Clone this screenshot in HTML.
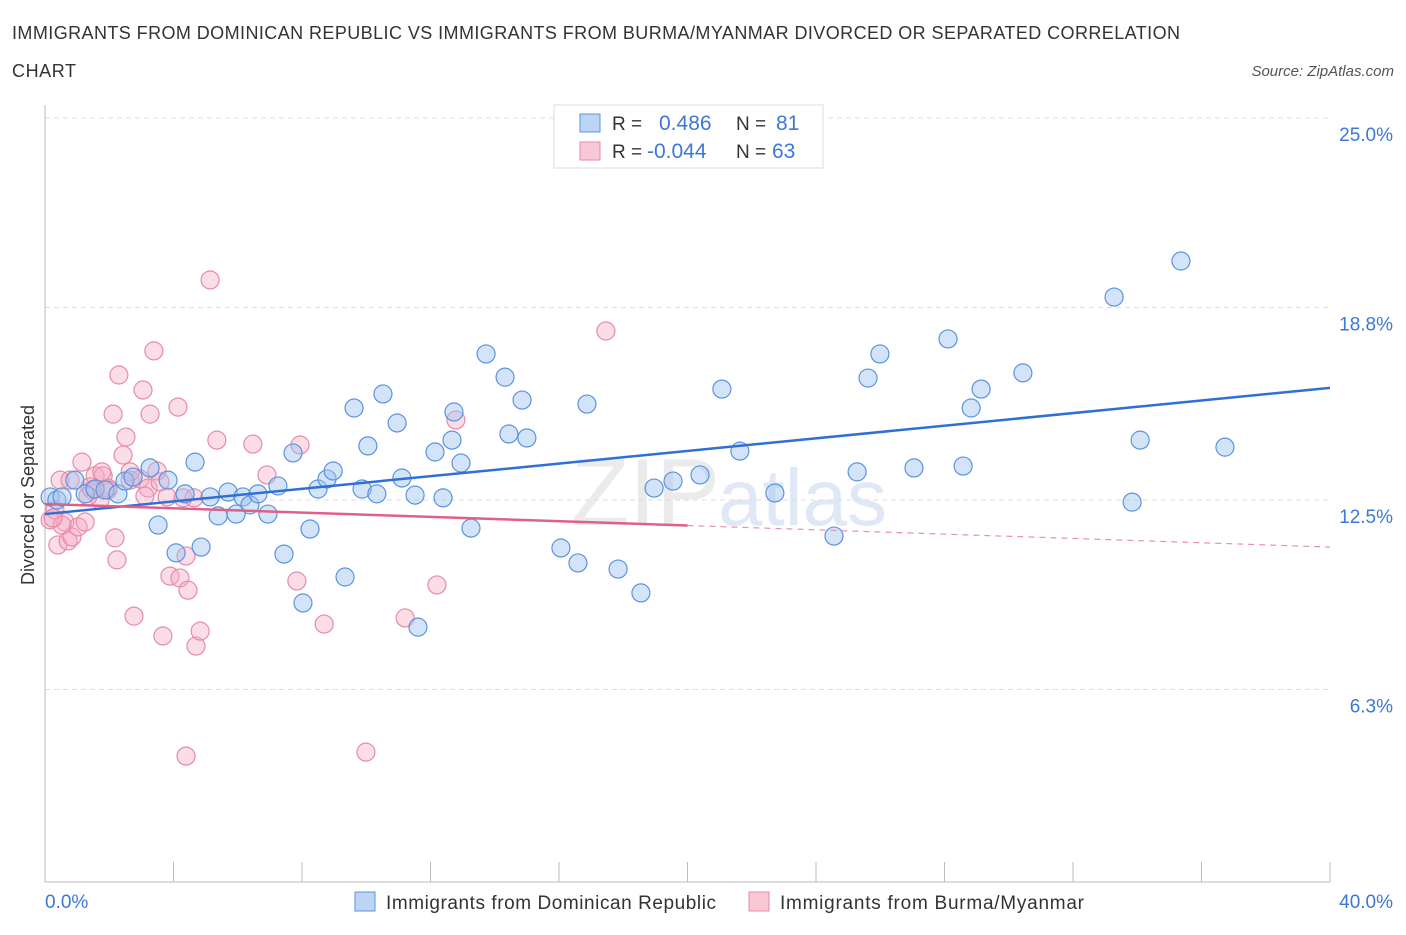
<!DOCTYPE html>
<html><head><meta charset="utf-8"><style>
body{margin:0;background:#fff;font-family:"Liberation Sans",sans-serif;}
svg text{font-family:"Liberation Sans",sans-serif;}
</style></head><body>
<svg id="chart" width="1406" height="930">
<text x="12" y="39" font-size="18" fill="#333" textLength="1168" lengthAdjust="spacing">IMMIGRANTS FROM DOMINICAN REPUBLIC VS IMMIGRANTS FROM BURMA/MYANMAR DIVORCED OR SEPARATED CORRELATION</text>
<text x="12" y="77" font-size="18" fill="#333" textLength="64">CHART</text>
<text x="1394" y="76" font-size="15" fill="#555" font-style="italic" text-anchor="end">Source: ZipAtlas.com</text>
<text x="720" y="525" font-size="96" fill="#ebebeb" text-anchor="end" font-family="Liberation Serif">ZIP</text>
<text x="718" y="525" font-size="80" fill="#dfe8f6">atlas</text>
<g id="grid"></g><g id="axes"></g><g id="marks"></g>
<text transform="translate(34,495) rotate(-90)" font-size="18" fill="#333" text-anchor="middle">Divorced or Separated</text>
<text x="45" y="908" font-size="19" fill="#3b78d8">0.0%</text>
<text x="1393" y="908" font-size="19" fill="#3b78d8" text-anchor="end">40.0%</text>
<g>
<rect x="554" y="105" width="269" height="63" fill="#fff" stroke="#ddd"/>
<rect x="580" y="114" width="20" height="18" fill="#bcd5f5" stroke="#5b93e0"/>
<rect x="580" y="142" width="20" height="18" fill="#f8c8d7" stroke="#e88aa8"/>
<text x="612" y="130" font-size="19" fill="#333">R =</text><text x="659" y="130" font-size="21" fill="#3b78d8">0.486</text>
<text x="736" y="130" font-size="19" fill="#333">N =</text><text x="776" y="130" font-size="21" fill="#3b78d8">81</text>
<text x="612" y="158" font-size="19" fill="#333">R =</text><text x="647" y="158" font-size="21" fill="#3b78d8">-0.044</text>
<text x="736" y="158" font-size="19" fill="#333">N =</text><text x="772" y="158" font-size="21" fill="#3b78d8">63</text>
</g>
<g>
<rect x="355" y="892" width="20" height="19" fill="#bcd5f5" stroke="#5b93e0"/>
<text x="386" y="909" font-size="19" fill="#333" textLength="330">Immigrants from Dominican Republic</text>
<rect x="749" y="892" width="20" height="19" fill="#f8c8d7" stroke="#e88aa8"/>
<text x="780" y="909" font-size="19" fill="#333" textLength="304">Immigrants from Burma/Myanmar</text>
</g>
</svg>
<script>
const blueX=[0.16,0.37,0.53,0.93,1.25,1.56,1.87,2.27,2.49,2.74,3.27,3.52,3.83,4.08,4.36,4.67,4.86,5.14,5.39,5.70,5.95,6.16,6.38,6.63,6.94,7.25,7.44,7.72,8.03,8.25,8.50,8.78,8.97,9.34,9.62,9.87,10.05,10.33,10.52,10.96,11.11,11.52,11.61,12.14,12.39,12.67,12.73,12.95,13.26,13.73,14.32,14.44,14.85,15.00,16.06,16.59,16.87,17.84,18.55,18.96,19.55,20.39,21.07,21.63,22.72,24.56,25.28,25.99,25.62,27.05,28.11,28.58,28.83,29.14,30.44,33.28,33.84,34.09,35.36,36.73];
const blueY=[12.60,12.50,12.60,13.15,12.70,12.86,12.83,12.70,13.12,13.25,13.55,11.68,13.15,10.77,12.70,13.74,10.96,12.60,11.98,12.76,12.04,12.60,12.34,12.70,12.04,12.96,10.73,14.04,9.13,11.55,12.86,13.19,13.45,9.98,15.51,12.86,14.27,12.70,15.97,15.02,13.22,12.66,8.34,14.07,12.57,14.46,15.38,13.71,11.58,17.28,16.52,14.66,15.77,14.53,10.93,10.44,15.64,10.24,9.46,12.89,13.12,13.32,16.13,14.10,12.73,11.32,13.42,17.28,16.49,13.55,17.77,13.61,15.51,16.13,16.66,19.14,12.43,14.46,20.32,14.23];
const pinkX=[0.16,0.31,0.40,0.47,0.62,0.72,0.84,1.03,1.15,1.25,1.40,1.56,1.71,1.81,1.96,2.12,2.18,2.24,2.30,2.43,2.52,2.65,2.77,2.96,3.05,3.21,3.27,3.39,3.49,3.58,3.67,3.80,3.89,4.14,4.20,4.30,4.39,4.45,4.64,4.70,4.83,5.14,5.35,6.47,6.91,7.84,7.94,8.69,9.99,11.21,12.20,12.79,17.46,0.53,0.78,1.46,1.77,1.96,2.65,3.11,4.39,1.34,0.25];
const pinkY=[11.85,12.17,11.03,13.15,11.78,11.16,11.29,11.62,13.74,11.78,12.93,13.29,12.50,13.29,12.89,15.31,11.26,10.54,16.59,13.97,14.56,13.15,8.70,13.19,16.10,12.89,15.31,17.38,13.45,13.09,8.05,12.60,10.01,15.54,9.95,12.57,4.12,9.55,12.57,7.72,8.21,19.70,14.46,14.33,13.32,9.85,14.30,8.44,4.25,8.64,9.72,15.12,18.03,11.68,13.15,12.83,13.42,12.83,13.42,12.63,10.67,12.63,11.91];
const yTicks=[25.0,18.8,12.5,6.3];
const yTickLabels=["25.0%","18.8%","12.5%","6.3%"];
const xTicks=[0,4,8,12,16,20,24,28,32,36,40];
const blueTrend=[12.04,16.17];
const pinkTrend=[12.37,10.96];
const pinkSolidEnd=20;
const NS="http://www.w3.org/2000/svg";
const X0=45,X1=1330,Y0=882,YS=30.56;
function sx(v){return X0+(X1-X0)*v/40;}
function sy(v){return Y0-v*YS;}
function mk(tag,attrs,parent){const e=document.createElementNS(NS,tag);for(const k in attrs)e.setAttribute(k,attrs[k]);parent.appendChild(e);return e;}
const grid=document.getElementById('grid'),axes=document.getElementById('axes'),marks=document.getElementById('marks');
yTicks.forEach((t,i)=>{
  const l=mk('line',{x1:X0,x2:X1,y1:sy(t),y2:sy(t),stroke:'#ddd','stroke-dasharray':'5,4'},grid);
  
  
  const tx=mk('text',{x:1393,y:sy(t)+23,'font-size':19,fill:'#3b78d8','text-anchor':'end'},grid);
  tx.textContent=yTickLabels[i];
  
  
});
const ya=mk('line',{x1:X0,x2:X0,y1:105,y2:Y0,stroke:'#bbb'},axes);


const xa=mk('line',{x1:X0,x2:X1,y1:Y0,y2:Y0,stroke:'#bbb'},axes);


xTicks.forEach(t=>{
  const l=mk('line',{x1:sx(t),x2:sx(t),y1:Y0-20,y2:Y0,stroke:'#bbb'},axes);
  
  
});
function pts(xs,ys,fill,stroke,name){
  xs.forEach((x,i)=>{
    const c=mk('circle',{cx:sx(x),cy:sy(ys[i]),r:9,fill:fill,stroke:stroke,'stroke-width':1.2},marks);
    
    
  });
}
pts(pinkX,pinkY,'rgba(245,170,195,0.4)','#e88aa8','burma-point');
pts(blueX,blueY,'rgba(160,196,240,0.45)','#5b93e0','dominican-point');
const bt=mk('line',{x1:sx(0),y1:sy(blueTrend[0]),x2:sx(40),y2:sy(blueTrend[1]),stroke:'#2f6fd6','stroke-width':2.5},marks);


const pm=pinkTrend[0]+(pinkTrend[1]-pinkTrend[0])*pinkSolidEnd/40;
const pt=mk('line',{x1:sx(0),y1:sy(pinkTrend[0]),x2:sx(pinkSolidEnd),y2:sy(pm),stroke:'#e0608a','stroke-width':2.5},marks);


const pd=mk('line',{x1:sx(pinkSolidEnd),y1:sy(pm),x2:sx(40),y2:sy(pinkTrend[1]),stroke:'#e891ad','stroke-width':1.2,'stroke-dasharray':'6,5'},marks);


</script>
</body></html>
